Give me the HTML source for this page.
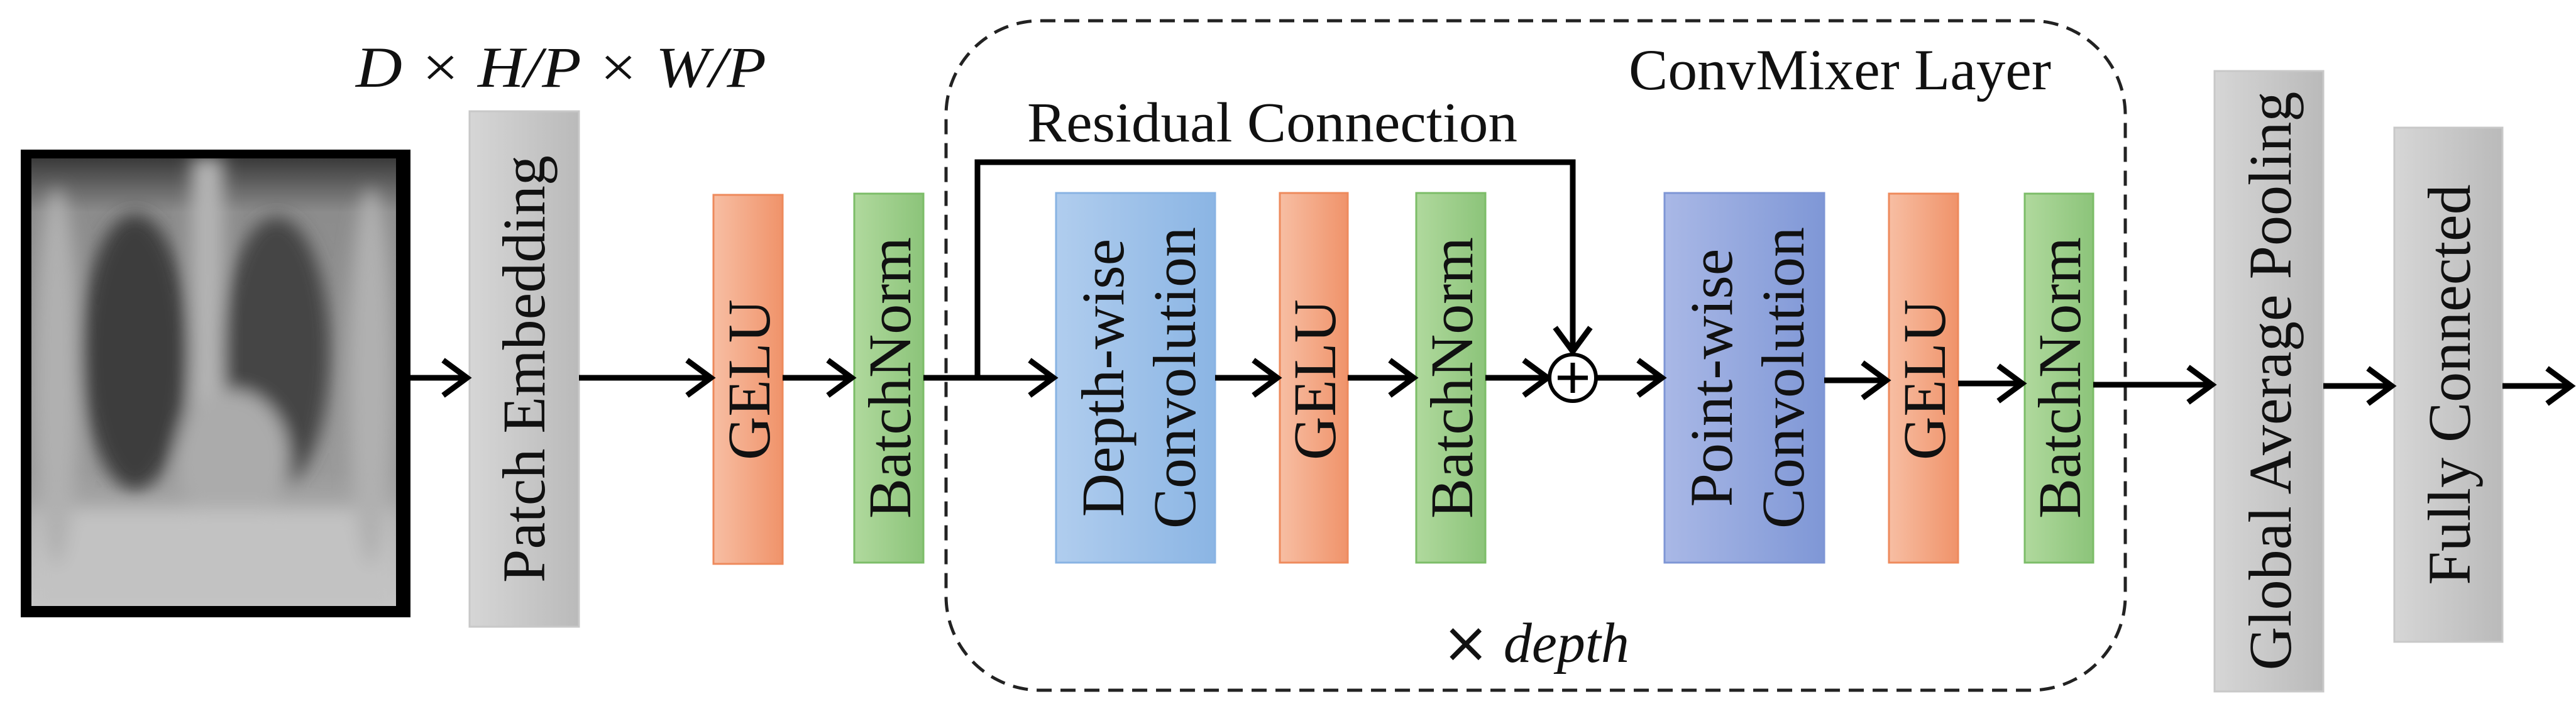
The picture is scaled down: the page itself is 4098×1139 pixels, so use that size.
<!DOCTYPE html>
<html><head><meta charset="utf-8"><style>
html,body{margin:0;padding:0;background:#fff;}
svg{display:block;}
text{font-family:"Liberation Serif",serif;fill:#111;}
</style></head><body>
<svg width="4098" height="1139" viewBox="0 0 4098 1139" xmlns="http://www.w3.org/2000/svg">
<defs>
<linearGradient id="gGray" x1="0" x2="1"><stop offset="0" stop-color="#d6d6d6"/><stop offset="1" stop-color="#bababa"/></linearGradient>
<linearGradient id="gOr" x1="0" x2="1"><stop offset="0" stop-color="#f7bea3"/><stop offset="1" stop-color="#f0936a"/></linearGradient>
<linearGradient id="gGr" x1="0" x2="1"><stop offset="0" stop-color="#b0d99d"/><stop offset="1" stop-color="#8cc47a"/></linearGradient>
<linearGradient id="gBl" x1="0" x2="1"><stop offset="0" stop-color="#b0cdee"/><stop offset="1" stop-color="#8bb5e4"/></linearGradient>
<linearGradient id="gPu" x1="0" x2="1"><stop offset="0" stop-color="#a9b8e6"/><stop offset="1" stop-color="#7f97d6"/></linearGradient>
<linearGradient id="xbg" x1="0" y1="0" x2="0" y2="1"><stop offset="0" stop-color="#3a3a3a"/><stop offset="0.12" stop-color="#8c8c8c"/><stop offset="0.7" stop-color="#9a9a9a"/><stop offset="1" stop-color="#c8c8c8"/></linearGradient>
<filter id="bl"><feGaussianBlur stdDeviation="14"/></filter>
</defs>

<!-- X-ray -->
<rect x="33" y="238" width="620" height="744" fill="#000"/>
<clipPath id="xc"><rect x="50" y="252" width="580" height="712"/></clipPath>
<g clip-path="url(#xc)">
<rect x="50" y="252" width="580" height="712" fill="url(#xbg)"/>
<g filter="url(#bl)">
<ellipse cx="215" cy="560" rx="85" ry="220" fill="#3e3e3e"/>
<ellipse cx="440" cy="560" rx="85" ry="215" fill="#444"/>
<rect x="305" y="252" width="50" height="700" fill="#b4b4b4"/>
<ellipse cx="370" cy="730" rx="90" ry="110" fill="#ababab"/>
<rect x="50" y="810" width="580" height="160" fill="#c2c2c2"/>
<ellipse cx="90" cy="600" rx="35" ry="300" fill="#b0b0b0"/>
<ellipse cx="590" cy="600" rx="35" ry="300" fill="#b0b0b0"/>
</g>
</g>

<!-- dimension label -->
<text x="566" y="138" font-size="92" font-style="italic" font-family="'DejaVu Sans','Liberation Sans',sans-serif" textLength="653" lengthAdjust="spacingAndGlyphs">D × H/P × W/P</text>

<!-- Boxes -->
<rect x="747" y="177" width="174" height="820" fill="url(#gGray)" stroke="#c8c8c8" stroke-width="3"/>
<rect x="1135" y="310" width="110" height="587" fill="url(#gOr)" stroke="#ee8a5c" stroke-width="3"/>
<rect x="1359" y="308" width="110" height="587" fill="url(#gGr)" stroke="#7cbd68" stroke-width="3"/>
<rect x="1680" y="307" width="253" height="588" fill="url(#gBl)" stroke="#88b3e3" stroke-width="3"/>
<rect x="2036" y="307" width="108" height="588" fill="url(#gOr)" stroke="#ee8a5c" stroke-width="3"/>
<rect x="2253" y="307" width="110" height="588" fill="url(#gGr)" stroke="#7cbd68" stroke-width="3"/>
<rect x="2648" y="307" width="254" height="588" fill="url(#gPu)" stroke="#7e96d5" stroke-width="3"/>
<rect x="3005" y="308" width="110" height="587" fill="url(#gOr)" stroke="#ee8a5c" stroke-width="3"/>
<rect x="3221" y="308" width="109" height="587" fill="url(#gGr)" stroke="#7cbd68" stroke-width="3"/>
<rect x="3523" y="113" width="173" height="987" fill="url(#gGray)" stroke="#c8c8c8" stroke-width="3"/>
<rect x="3809" y="203" width="172" height="818" fill="url(#gGray)" stroke="#c8c8c8" stroke-width="3"/>

<!-- Dashed container -->
<rect x="1505" y="33" width="1876" height="1065" rx="150" ry="150" fill="none" stroke="#222" stroke-width="5" stroke-dasharray="24 14"/>

<!-- rotated labels -->
<g font-size="96" text-anchor="middle">
<text transform="translate(866,587) rotate(-90)">Patch Embedding</text>
<text transform="translate(1224,604) rotate(-90)">GELU</text>
<text transform="translate(1448,601) rotate(-90)">BatchNorm</text>
<text transform="translate(1787,601) rotate(-90)">Depth-wise</text>
<text transform="translate(1901,601) rotate(-90)">Convolution</text>
<text transform="translate(2124,604) rotate(-90)">GELU</text>
<text transform="translate(2342,601) rotate(-90)">BatchNorm</text>
<text transform="translate(2755,601) rotate(-90)">Point-wise</text>
<text transform="translate(2869,601) rotate(-90)">Convolution</text>
<text transform="translate(3094,604) rotate(-90)">GELU</text>
<text transform="translate(3309,601) rotate(-90)">BatchNorm</text>
<text transform="translate(3644,606) rotate(-90)">Global Average Pooling</text>
<text transform="translate(3929,612) rotate(-90)">Fully Connected</text>
</g>

<text x="1634" y="225" font-size="90" textLength="780" lengthAdjust="spacingAndGlyphs">Residual Connection</text>
<text x="2591" y="142" font-size="92" textLength="672" lengthAdjust="spacingAndGlyphs">ConvMixer Layer</text>
<text x="2294" y="1053" font-size="90"><tspan font-family="'DejaVu Sans',sans-serif">×</tspan> <tspan font-style="italic">depth</tspan></text>

<!-- connectors -->
<g stroke="#000" stroke-width="9" fill="none">
<polyline points="1555,601 1555,258 2502,258 2502,556"/>
<line x1="653" y1="601" x2="740" y2="601"/>
<line x1="921" y1="601" x2="1128" y2="601"/>
<line x1="1245" y1="601" x2="1352" y2="601"/>
<line x1="1469" y1="601" x2="1673" y2="601"/>
<line x1="1933" y1="601" x2="2029" y2="601"/>
<line x1="2144" y1="601" x2="2246" y2="601"/>
<line x1="2363" y1="601" x2="2458" y2="601"/>
<line x1="2540" y1="601" x2="2641" y2="601"/>
<line x1="2902" y1="605" x2="2998" y2="605"/>
<line x1="3115" y1="610" x2="3214" y2="610"/>
<line x1="3330" y1="612" x2="3516" y2="612"/>
<line x1="3696" y1="614" x2="3802" y2="614"/>
<line x1="3981" y1="614" x2="4088" y2="614"/>
</g>
<g stroke="#000" stroke-width="9" fill="none">
<polyline points="705,573 743,601 705,629"/>
<polyline points="1093,573 1131,601 1093,629"/>
<polyline points="1317,573 1355,601 1317,629"/>
<polyline points="1638,573 1676,601 1638,629"/>
<polyline points="1994,573 2032,601 1994,629"/>
<polyline points="2211,573 2249,601 2211,629"/>
<polyline points="2424,573 2462,601 2424,629"/>
<polyline points="2606,573 2644,601 2606,629"/>
<polyline points="2963,577 3001,605 2963,633"/>
<polyline points="3179,582 3217,610 3179,638"/>
<polyline points="3481,584 3519,612 3481,640"/>
<polyline points="3767,586 3805,614 3767,642"/>
<polyline points="4052,586 4090,614 4052,642"/>
<polyline points="2474,521 2502,559 2530,521"/>
</g>
<circle cx="2502" cy="601" r="37" fill="#fff" stroke="#000" stroke-width="6"/>
<line x1="2478" y1="601" x2="2526" y2="601" stroke="#000" stroke-width="7"/>
<line x1="2502" y1="577" x2="2502" y2="625" stroke="#000" stroke-width="7"/>
</svg>
</body></html>
